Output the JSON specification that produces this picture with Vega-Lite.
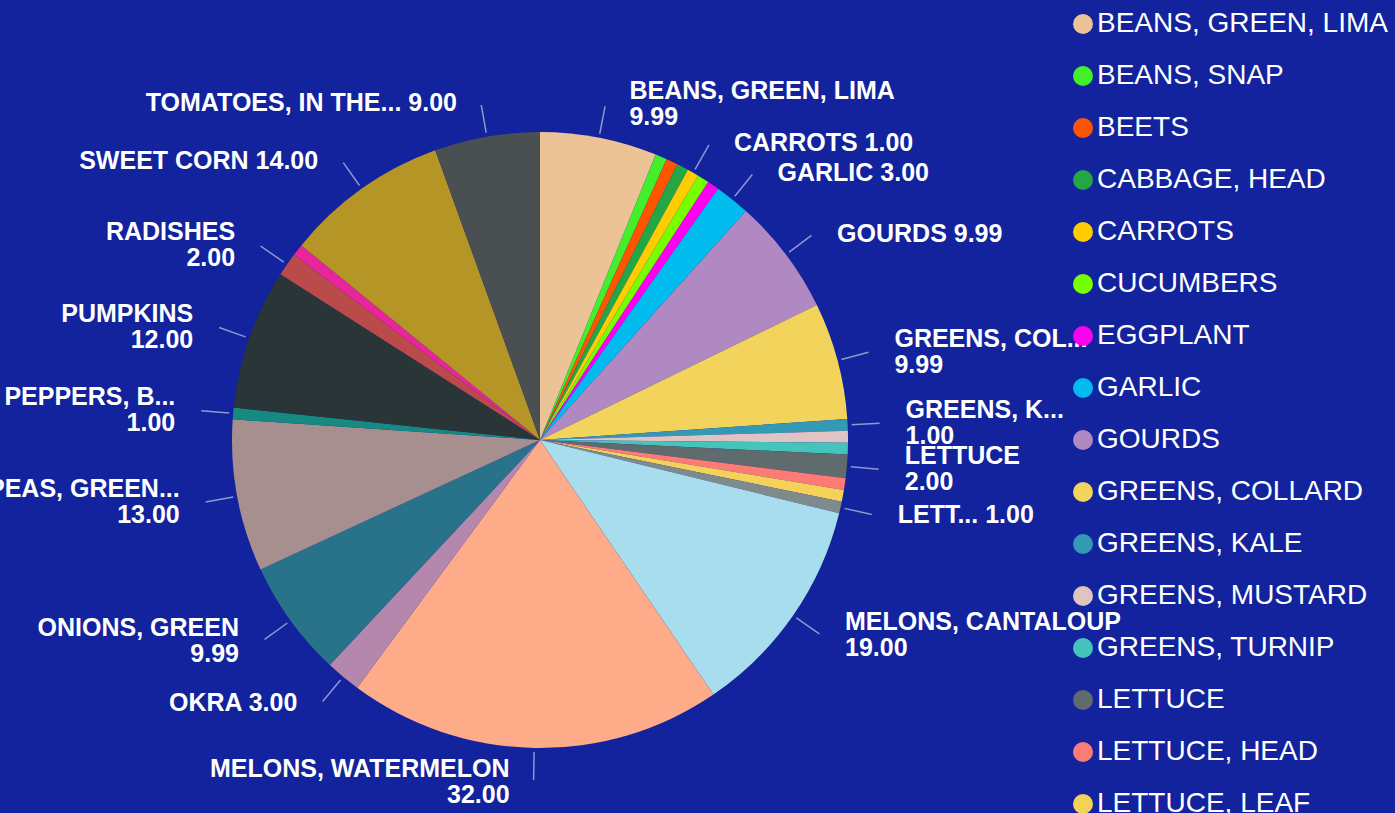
{
  "$schema": "https://vega.github.io/schema/vega-lite/v6.json",
  "width": 1080,
  "height": 880,
  "autosize": {"type": "none"},
  "padding": {"left": 0, "top": 0, "right": 315, "bottom": 0},
  "background": "#12239d",
  "config": {"view": {"stroke": null}},
  "data": {
    "values": [
      {"idx": 1, "name": "BEANS, GREEN, LIMA", "value": 9.99, "label": "BEANS, GREEN, LIMA\n9.99"},
      {"idx": 2, "name": "BEANS, SNAP", "value": 1, "label": ""},
      {"idx": 3, "name": "BEETS", "value": 1, "label": ""},
      {"idx": 4, "name": "CABBAGE, HEAD", "value": 1, "label": ""},
      {"idx": 5, "name": "CARROTS", "value": 1, "label": "CARROTS 1.00"},
      {"idx": 6, "name": "CUCUMBERS", "value": 1, "label": ""},
      {"idx": 7, "name": "EGGPLANT", "value": 1, "label": ""},
      {"idx": 8, "name": "GARLIC", "value": 3, "label": "GARLIC 3.00"},
      {"idx": 9, "name": "GOURDS", "value": 9.99, "label": "GOURDS 9.99"},
      {"idx": 10, "name": "GREENS, COLLARD", "value": 9.99, "label": "GREENS, COL...\n9.99"},
      {"idx": 11, "name": "GREENS, KALE", "value": 1, "label": "GREENS, K...\n1.00"},
      {"idx": 12, "name": "GREENS, MUSTARD", "value": 1, "label": ""},
      {"idx": 13, "name": "GREENS, TURNIP", "value": 1, "label": ""},
      {"idx": 14, "name": "LETTUCE", "value": 2, "label": "LETTUCE\n2.00"},
      {"idx": 15, "name": "LETTUCE, HEAD", "value": 1, "label": ""},
      {"idx": 16, "name": "LETTUCE, LEAF", "value": 1, "label": ""},
      {"idx": 17, "name": "LETTUCE, ROMAINE", "value": 1, "label": "LETT... 1.00"},
      {"idx": 18, "name": "MELONS, CANTALOUP", "value": 19, "label": "MELONS, CANTALOUP\n19.00"},
      {"idx": 19, "name": "MELONS, WATERMELON", "value": 32, "label": "MELONS, WATERMELON\n32.00"},
      {"idx": 20, "name": "OKRA", "value": 3, "label": "OKRA 3.00"},
      {"idx": 21, "name": "ONIONS, GREEN", "value": 9.99, "label": "ONIONS, GREEN\n9.99"},
      {"idx": 22, "name": "PEAS, GREEN, EXCL SOUTHERN", "value": 13, "label": "PEAS, GREEN...\n13.00"},
      {"idx": 23, "name": "PEPPERS, BELL", "value": 1, "label": "PEPPERS, B...\n1.00"},
      {"idx": 24, "name": "PUMPKINS", "value": 12, "label": "PUMPKINS\n12.00"},
      {"idx": 25, "name": "RADISHES", "value": 2, "label": "RADISHES\n2.00"},
      {"idx": 26, "name": "SQUASH", "value": 1, "label": ""},
      {"idx": 27, "name": "SWEET CORN", "value": 14, "label": "SWEET CORN 14.00"},
      {"idx": 28, "name": "TOMATOES, IN THE OPEN", "value": 9, "label": "TOMATOES, IN THE... 9.00"}
    ]
  },
  "layer": [
    {
      "mark": {"type": "arc", "radius": 308, "strokeWidth": 0},
      "encoding": {
        "theta": {"field": "value", "type": "quantitative", "stack": true},
        "order": {"field": "idx", "type": "quantitative", "sort": "ascending"},
        "color": {
          "field": "name",
          "type": "nominal",
          "scale": {
            "domain": ["BEANS, GREEN, LIMA", "BEANS, SNAP", "BEETS", "CABBAGE, HEAD", "CARROTS", "CUCUMBERS", "EGGPLANT", "GARLIC", "GOURDS", "GREENS, COLLARD", "GREENS, KALE", "GREENS, MUSTARD", "GREENS, TURNIP", "LETTUCE", "LETTUCE, HEAD", "LETTUCE, LEAF", "LETTUCE, ROMAINE", "MELONS, CANTALOUP", "MELONS, WATERMELON", "OKRA", "ONIONS, GREEN", "PEAS, GREEN, EXCL SOUTHERN", "PEPPERS, BELL", "PUMPKINS", "RADISHES", "SQUASH", "SWEET CORN", "TOMATOES, IN THE OPEN"],
            "range": ["#ebc397", "#44ee2a", "#ff5500", "#22a744", "#ffcc00", "#77ff00", "#ff00ee", "#00bbee", "#b088c2", "#f2d45c", "#3399b4", "#e0c4c4", "#44c4ba", "#5f6b6d", "#fd7b75", "#f4d25a", "#7f8a8c", "#a8ddee", "#fdab89", "#b687ac", "#28738a", "#a78f8f", "#168980", "#293537", "#bb4a4a", "#e8259a", "#b59525", "#4a5052"]
          },
          "legend": {
            "title": null,
            "orient": "none",
            "legendX": 1069,
            "legendY": 10,
            "padding": 0,
            "symbolType": "circle",
            "symbolSize": 400,
            "symbolStrokeWidth": 0,
            "symbolOpacity": 1,
            "labelFont": "Liberation Sans",
            "labelFontSize": 28,
            "labelColor": "#ffffff",
            "labelLimit": 0,
            "labelOffset": 0,
            "rowPadding": 24,
            "symbolLimit": 0
          }
        }
      }
    },
    {
      "transform": [
        {"window": [{"op": "sum", "field": "value", "as": "cum"}], "sort": [{"field": "idx"}], "frame": [null, 0]},
        {"joinaggregate": [{"op": "sum", "field": "value", "as": "total"}]},
        {"calculate": "datum.cum - datum.value / 2", "as": "mid"},
        {"filter": "datum.label != ''"}
      ],
      "layer": [
        {
          "mark": {"type": "arc", "radius": 312, "radius2": 340, "fill": null, "stroke": "#8f97cc", "strokeWidth": 1.5},
          "encoding": {
            "theta": {"field": "mid", "type": "quantitative"},
            "theta2": {"field": "mid"}
          }
        },
        {
          "transform": [{"filter": "datum.mid < datum.total / 2 && indexof(datum.label, '\\n') < 0"}],
          "mark": {"type": "text", "radius": 342, "align": "left", "baseline": "middle", "dx": 24, "font": "Liberation Sans", "fontWeight": "bold", "fontSize": 25, "color": "#ffffff"},
          "encoding": {"theta": {"field": "mid", "type": "quantitative"}, "text": {"field": "label"}}
        },
        {
          "transform": [{"filter": "datum.mid < datum.total / 2 && indexof(datum.label, '\\n') >= 0"}],
          "mark": {"type": "text", "radius": 342, "align": "left", "baseline": "middle", "dx": 24, "dy": -13, "lineBreak": "\n", "lineHeight": 26, "font": "Liberation Sans", "fontWeight": "bold", "fontSize": 25, "color": "#ffffff"},
          "encoding": {"theta": {"field": "mid", "type": "quantitative"}, "text": {"field": "label"}}
        },
        {
          "transform": [{"filter": "datum.mid >= datum.total / 2 && indexof(datum.label, '\\n') < 0"}],
          "mark": {"type": "text", "radius": 342, "align": "right", "baseline": "middle", "dx": -24, "font": "Liberation Sans", "fontWeight": "bold", "fontSize": 25, "color": "#ffffff"},
          "encoding": {"theta": {"field": "mid", "type": "quantitative"}, "text": {"field": "label"}}
        },
        {
          "transform": [{"filter": "datum.mid >= datum.total / 2 && indexof(datum.label, '\\n') >= 0"}],
          "mark": {"type": "text", "radius": 342, "align": "right", "baseline": "middle", "dx": -24, "dy": -13, "lineBreak": "\n", "lineHeight": 26, "font": "Liberation Sans", "fontWeight": "bold", "fontSize": 25, "color": "#ffffff"},
          "encoding": {"theta": {"field": "mid", "type": "quantitative"}, "text": {"field": "label"}}
        }
      ]
    }
  ]
}
